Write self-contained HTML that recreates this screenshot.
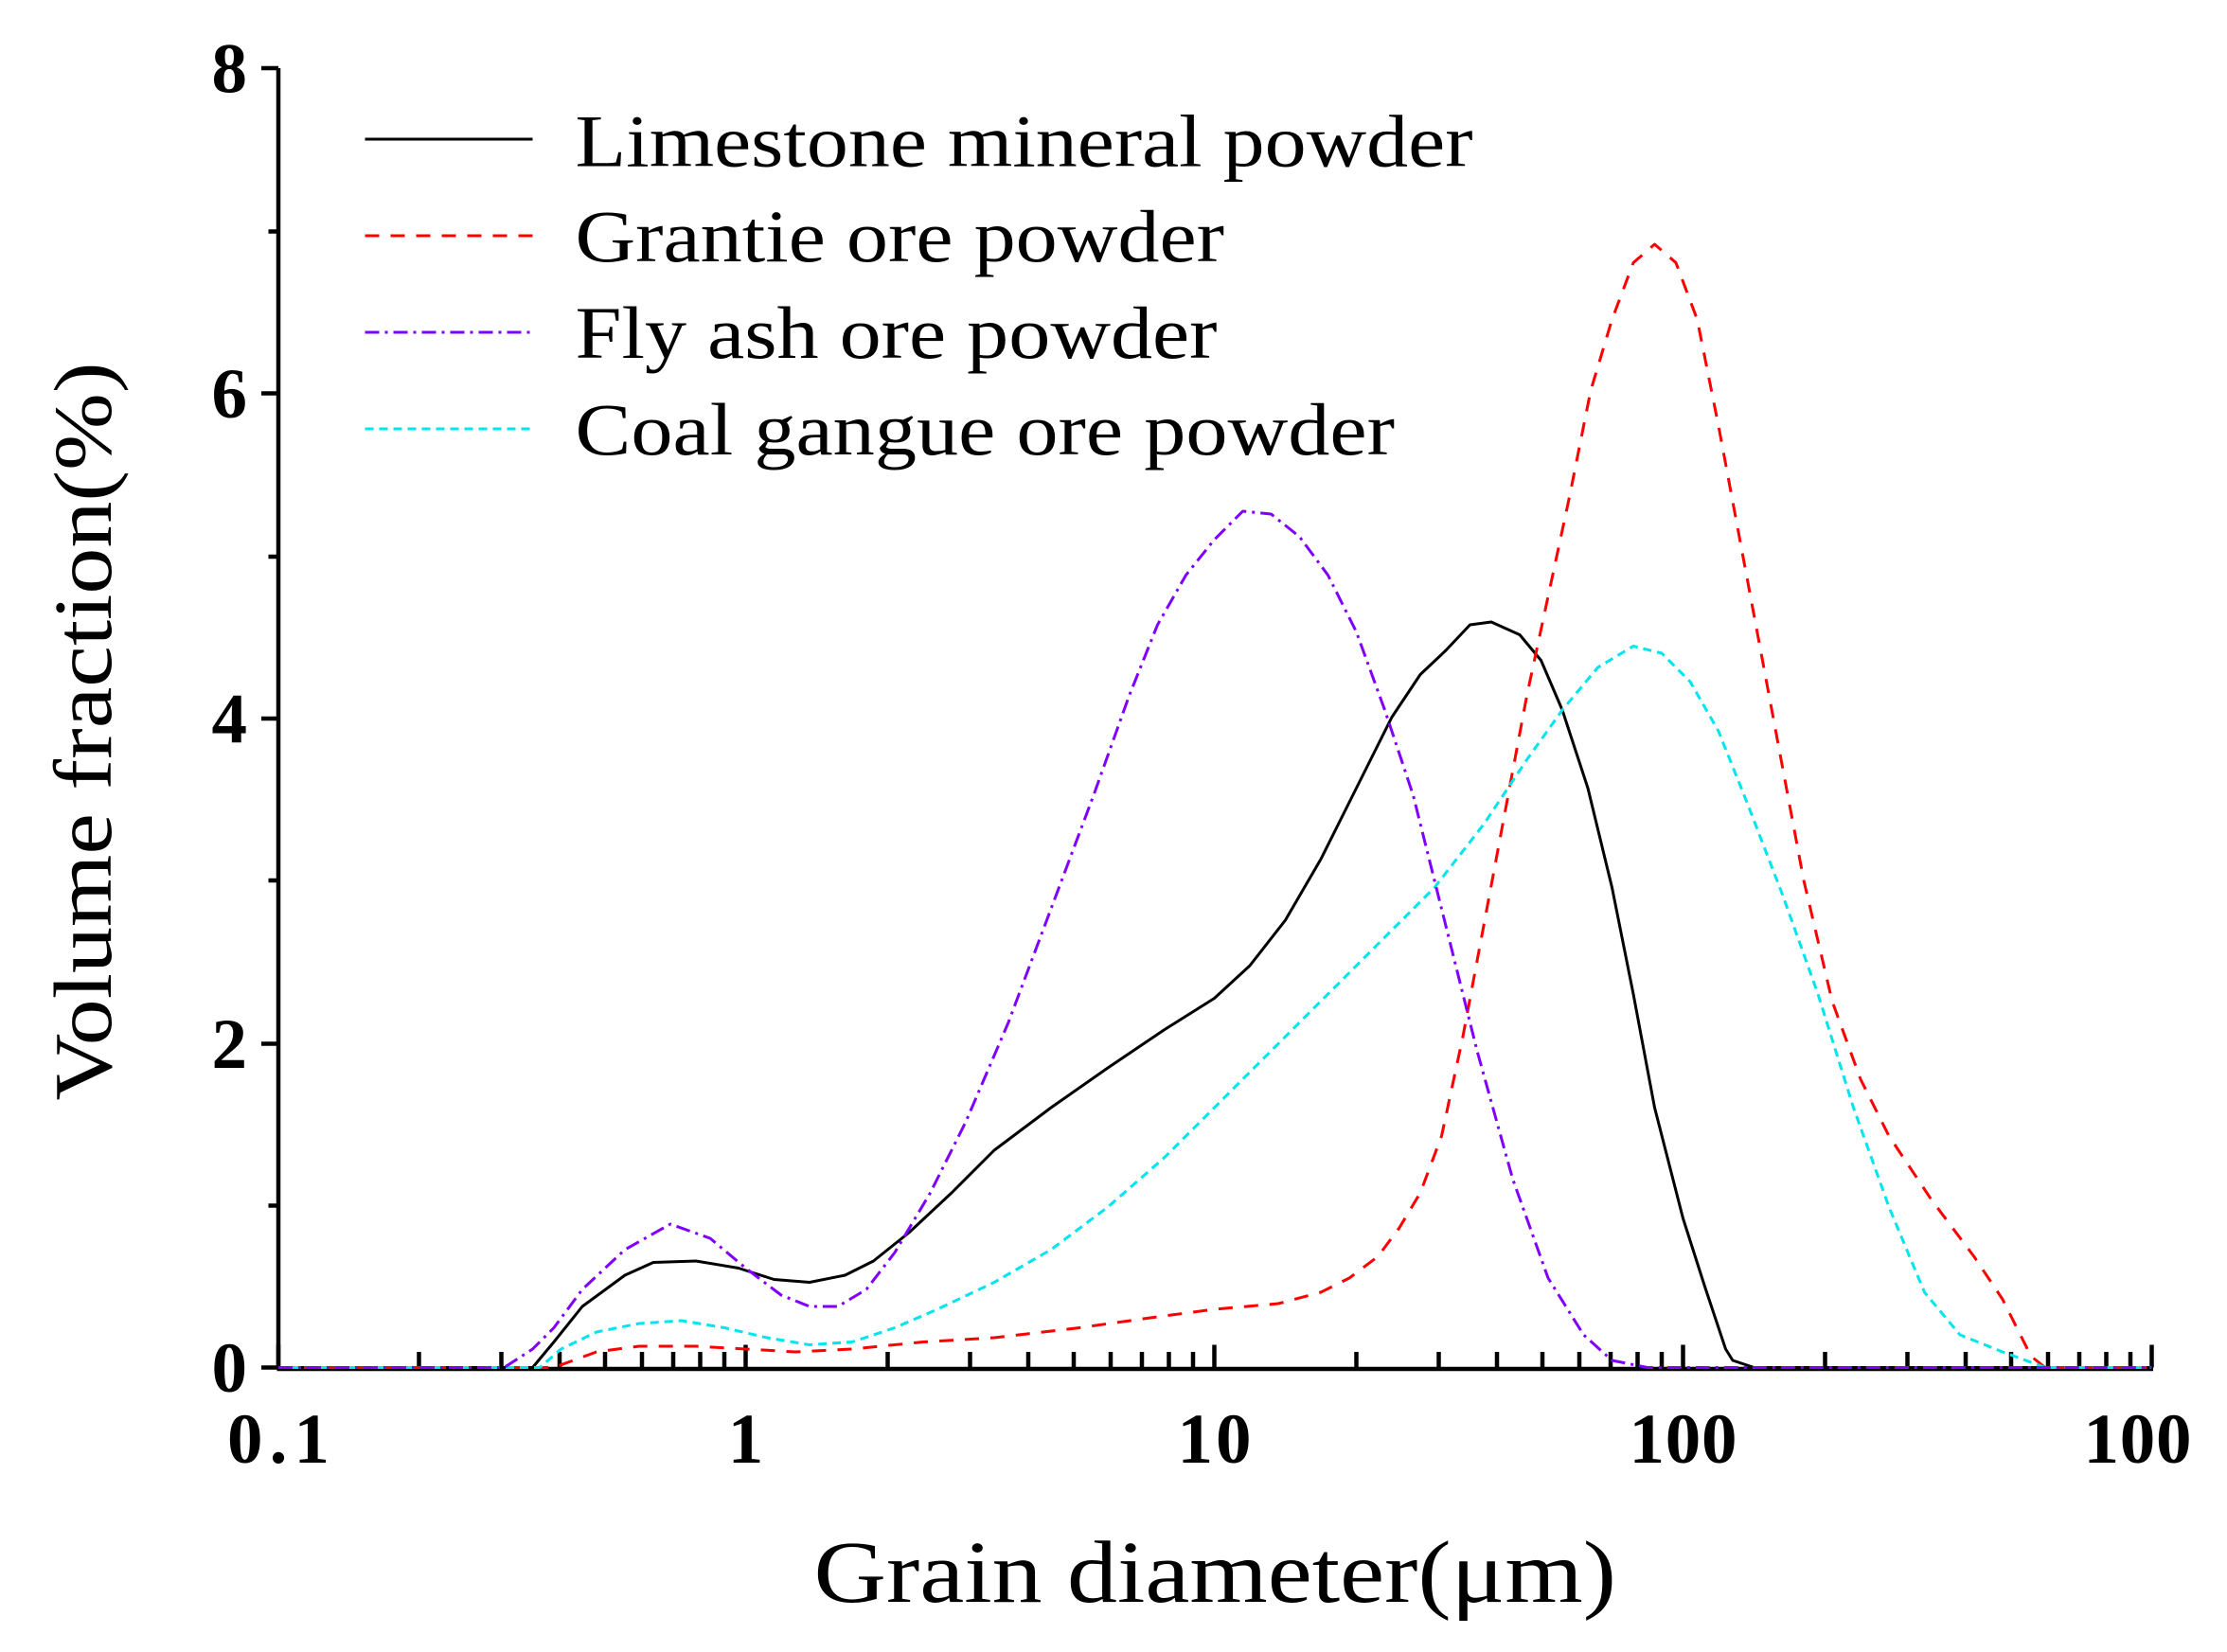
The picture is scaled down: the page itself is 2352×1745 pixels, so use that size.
<!DOCTYPE html>
<html><head><style>html,body{margin:0;padding:0;background:#fff}</style></head><body>
<svg width="2352" height="1740" viewBox="0 0 1568 1160" xmlns="http://www.w3.org/2000/svg" font-family="Liberation Serif, serif">
<rect width="1568" height="1160" fill="#fff"/>
<g stroke="#000" stroke-width="3" fill="none">
<line x1="196" y1="48" x2="196" y2="964"/>
<line x1="195" y1="964" x2="1516" y2="964"/>
<path d="M184,963H196M184,735H196M184,506H196M184,277H196M184,48H196M189,849H196M189,620H196M189,392H196M189,163H196"/>
<path d="M525,963V947M855,963V947M1185,963V947M1515,963V947M196,963V947"/>
<path id="minor" d="M295,963V952M353,963V952M394,963V952M426,963V952M452,963V952M474,963V952M493,963V952M510,963V952"/>
<use href="#minor" transform="translate(330,0)"/>
<use href="#minor" transform="translate(660,0)"/>
<use href="#minor" transform="translate(990,0)"/>
</g>
<g font-weight="bold" font-size="50" text-anchor="middle">
<text x="174" y="980" text-anchor="end">0</text>
<text x="174" y="752" text-anchor="end">2</text>
<text x="174" y="523" text-anchor="end">4</text>
<text x="174" y="294" text-anchor="end">6</text>
<text x="174" y="65" text-anchor="end">8</text>
<text x="196" y="1030" textLength="72">0.1</text>
<text x="525" y="1030">1</text>
<text x="855" y="1030" textLength="52">10</text>
<text x="1185" y="1030" textLength="76">100</text>
<text x="1505" y="1030" textLength="76">100</text>
</g>
<text x="573" y="1128" font-size="62" textLength="565" lengthAdjust="spacingAndGlyphs">Grain diameter(μm)</text>
<text transform="translate(78,775) rotate(-90)" font-size="58" textLength="520" lengthAdjust="spacingAndGlyphs">Volume fraction(%)</text>
<g font-size="52" lengthAdjust="spacingAndGlyphs">
<text x="405" y="117" textLength="632" lengthAdjust="spacingAndGlyphs">Limestone mineral powder</text>
<text x="405" y="184" textLength="457" lengthAdjust="spacingAndGlyphs">Grantie ore powder</text>
<text x="405" y="252" textLength="452" lengthAdjust="spacingAndGlyphs">Fly ash ore powder</text>
<text x="405" y="320" textLength="577" lengthAdjust="spacingAndGlyphs">Coal gangue ore powder</text>
</g>
<g fill="none" stroke-width="2" stroke-linejoin="round">
<line x1="257" y1="98" x2="375" y2="98" stroke="#000"/>
<line x1="257" y1="166" x2="375" y2="166" stroke="#ff0000" stroke-dasharray="10,8"/>
<line x1="257" y1="234" x2="375" y2="234" stroke="#7f00ff" stroke-dasharray="10,4,2,4"/>
<line x1="257" y1="302" x2="375" y2="302" stroke="#00e5ee" stroke-dasharray="6,4"/>
<polyline stroke="#000" points="196,963 375,963 390,945 410,920 440,898 460,889 490,888 520,893 545,901 570,903 595,898 615,888 640,868 670,840 700,810 740,780 780,752 820,725 855,703 880,680 905,648 930,605 955,555 980,505 1000,475 1018,458 1035,440 1050,438 1070,447 1085,465 1100,500 1118,555 1135,625 1150,700 1165,780 1185,858 1200,905 1215,950 1220,958 1235,963 1515,963"/>
<polyline stroke="#ff0000" stroke-dasharray="10,8" points="196,963 390,963 420,952 450,948 490,948 525,950 560,952 600,950 650,945 700,942 760,935 810,928 855,922 900,918 930,910 950,900 970,885 985,865 1000,840 1015,800 1030,730 1045,650 1060,570 1075,490 1090,420 1105,350 1120,275 1135,225 1150,185 1165,172 1180,185 1195,225 1210,300 1225,380 1240,460 1255,540 1270,620 1290,705 1310,760 1330,800 1360,845 1390,885 1410,915 1430,955 1440,963 1515,963"/>
<polyline stroke="#00e5ee" stroke-dasharray="6,4" points="196,963 380,963 395,950 420,938 450,932 480,930 510,935 540,942 570,947 600,945 630,935 660,922 700,903 740,880 780,850 820,815 855,780 890,745 930,705 970,665 1010,625 1045,580 1075,535 1100,500 1125,470 1150,455 1170,460 1190,480 1210,515 1230,565 1255,630 1280,700 1305,780 1330,850 1355,910 1380,940 1410,952 1440,963 1515,963"/>
<polyline stroke="#7f00ff" stroke-dasharray="10,4,2,4" points="196,963 355,963 375,950 390,935 410,908 440,880 472,862 500,872 525,893 550,912 570,920 590,920 610,908 630,882 655,840 680,790 710,720 740,640 770,560 795,490 815,440 835,405 855,380 875,360 895,362 915,378 935,405 955,445 975,500 995,560 1015,640 1040,740 1065,830 1090,900 1115,940 1135,958 1160,963 1515,963"/>
</g>
</svg>
</body></html>
